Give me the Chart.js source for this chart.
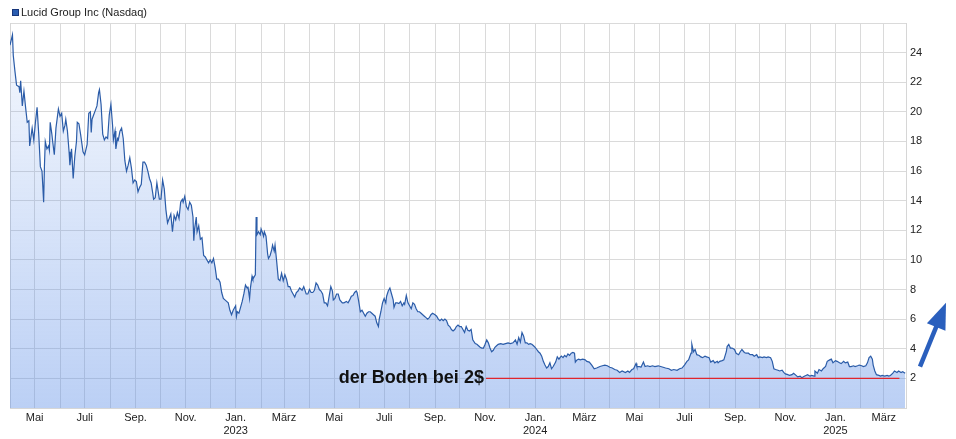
<!DOCTYPE html>
<html lang="de">
<head>
<meta charset="UTF-8">
<title>Lucid Group Inc (Nasdaq)</title>
<script src="https://cdn.jsdelivr.net/npm/chart.js"></script>
<style>
  html, body { margin: 0; padding: 0; background: #fff; }
</style>
</head>
<body>
<canvas id="chart" width="956" height="439"></canvas>
<script>
// Schlusskurse in USD, x = Tage seit dem 01.04.2022
const seriesName = 'Lucid Group Inc (Nasdaq)';
const startDate = Date.UTC(2022, 3, 1);
const lastDay = 1092;

const days = [
  0, 3, 4, 6, 8, 11, 12, 13, 15, 17,
  19, 21, 23, 24, 27, 29, 31, 33, 35, 37,
  39, 41, 42, 43, 45, 47, 48, 49, 51, 52,
  54, 56, 59, 61, 63, 65, 67, 68, 70, 72,
  73, 75, 77, 79, 81, 82, 84, 86, 89, 91,
  94, 96, 98, 99, 100, 102, 104, 106, 108, 109,
  111, 113, 115, 117, 119, 121, 123, 125, 126, 128,
  129, 131, 132, 134, 136, 138, 140, 142, 144, 146,
  148, 150, 152, 154, 156, 158, 160, 162, 164, 166,
  168, 170, 172, 174, 175, 177, 179, 182, 184, 186,
  188, 190, 192, 194, 196, 198, 200, 202, 204, 206,
  208, 210, 211, 213, 215, 217, 219, 221, 223, 224,
  225, 227, 228, 230, 232, 234, 236, 238, 240, 242,
  244, 246, 248, 250, 252, 254, 256, 258, 260, 262,
  264, 266, 268, 270, 272, 275, 276, 277, 279, 281,
  283, 285, 287, 289, 290, 292, 293, 295, 296, 298,
  299, 300, 301, 303, 305, 306, 308, 309, 310, 312,
  314, 315, 317, 319, 320, 322, 323, 325, 327, 329,
  331, 333, 335, 337, 339, 341, 343, 345, 347, 349,
  351, 353, 356, 358, 361, 363, 365, 367, 369, 371,
  373, 375, 377, 379, 381, 383, 385, 387, 389, 391,
  393, 394, 396, 398, 400, 402, 405, 407, 410, 412,
  414, 416, 418, 420, 422, 423, 425, 427, 429, 431,
  433, 435, 437, 439, 441, 443, 445, 447, 449, 450,
  452, 454, 456, 458, 459, 461, 463, 465, 467, 468,
  470, 472, 474, 476, 478, 480, 481, 483, 485, 487,
  489, 491, 493, 495, 497, 499, 501, 503, 505, 507,
  509, 511, 513, 515, 518, 520, 522, 524, 526, 528,
  530, 532, 534, 536, 538, 540, 542, 544, 546, 548,
  550, 552, 554, 556, 558, 560, 562, 564, 567, 569,
  571, 573, 575, 577, 579, 581, 583, 585, 587, 589,
  591, 593, 595, 598, 601, 604, 607, 610, 613, 616,
  618, 620, 622, 624, 626, 628, 630, 632, 634, 636,
  638, 640, 642, 644, 646, 648, 650, 652, 654, 656,
  658, 660, 662, 665, 667, 669, 671, 672, 674, 676,
  678, 680, 682, 684, 686, 688, 689, 691, 693, 695,
  698, 701, 703, 706, 709, 712, 715, 719, 722, 725,
  728, 731, 734, 737, 740, 743, 746, 750, 753, 755,
  758, 760, 763, 764, 767, 769, 772, 774, 777, 780,
  783, 786, 790, 793, 796, 799, 803, 806, 809, 813,
  816, 819, 822, 825, 827, 830, 831, 833, 835, 837,
  840, 842, 844, 847, 849, 852, 854, 857, 859, 862,
  863, 865, 868, 870, 873, 874, 876, 878, 880, 883,
  885, 888, 890, 892, 895, 897, 900, 902, 905, 907,
  910, 912, 914, 917, 919, 922, 924, 927, 929, 931,
  933, 936, 938, 941, 943, 945, 948, 950, 953, 955,
  958, 960, 963, 965, 968, 970, 972, 975, 977, 980,
  981, 984, 986, 989, 991, 994, 996, 999, 1001, 1003,
  1006, 1008, 1011, 1013, 1016, 1018, 1021, 1023, 1025, 1028,
  1030, 1033, 1035, 1038, 1040, 1043, 1045, 1047, 1049, 1051,
  1052, 1054, 1056, 1059, 1061, 1063, 1066, 1069, 1071, 1073,
  1076, 1078, 1081, 1083, 1086, 1088, 1091
];

const prices = [
  24.5, 25.2, 23.8, 22.75, 21.8, 21.7, 21.3, 22.1, 20.4, 21.4,
  20.3, 19.3, 19.4, 17.7, 18.9, 18.1, 19.3, 20.3, 18.5, 16.3,
  16.0, 13.9, 16.4, 18.0, 17.5, 17.7, 17.4, 19.3, 18.5, 18.0,
  17.1, 18.9, 20.2, 19.7, 19.9, 18.7, 19.1, 19.5, 18.7, 17.3,
  16.4, 17.5, 15.5, 17.0, 18.0, 19.3, 19.2, 18.5, 17.3, 17.1,
  17.8, 19.9, 20.0, 18.6, 19.5, 19.8, 20.1, 20.4, 21.3, 21.5,
  20.5, 18.5, 18.1, 18.3, 18.2, 19.8, 20.5, 19.1, 18.1, 18.7,
  17.5, 18.2, 18.1, 18.7, 18.9, 18.2, 16.7, 16.0, 16.4, 16.9,
  16.2, 15.2, 15.4, 15.3, 14.6, 14.9, 15.1, 16.6, 16.6, 16.4,
  16.0, 15.5, 15.2, 14.5, 14.1, 14.2, 15.2, 14.1, 14.1, 15.4,
  14.8, 13.4, 12.5, 12.8, 13.1, 11.9, 13.0, 12.7, 13.2, 12.8,
  13.9, 14.1, 13.9, 14.3, 13.6, 13.4, 13.9, 13.7, 12.9, 11.3,
  12.1, 12.9, 11.9, 12.3, 11.4, 11.5, 10.3, 10.2, 10.0, 9.8,
  10.0, 9.8, 10.1, 9.5, 8.7, 8.7, 8.5, 7.8, 7.4, 7.3,
  7.2, 7.1, 6.6, 6.3, 6.6, 6.9, 6.2, 6.5, 6.4, 6.8,
  7.2, 7.7, 8.3, 8.1, 8.2, 7.4, 8.1, 8.9, 8.7, 8.9,
  9.0, 12.9, 11.7, 11.9, 11.7, 12.1, 11.8, 11.6, 11.9, 11.6,
  10.4, 10.1, 10.3, 10.7, 11.0, 10.6, 11.0, 9.9, 8.7, 8.6,
  9.1, 8.6, 9.0, 8.7, 8.2, 8.2, 7.9, 7.7, 7.5, 7.8,
  7.9, 8.1, 7.95, 8.2, 7.7, 7.7, 8.0, 7.8, 7.8, 7.95,
  8.45, 8.3, 8.0, 7.9, 7.7, 7.1, 7.1, 6.9, 7.55, 8.2,
  7.9, 7.3, 7.4, 7.7, 7.7, 7.3, 7.1, 7.1, 7.2, 7.1,
  7.3, 7.55, 7.6, 7.8, 7.9, 7.8, 7.2, 6.5, 6.6, 6.4,
  6.2, 6.4, 6.5, 6.5, 6.4, 6.3, 6.2, 5.75, 5.5, 6.0,
  6.5, 7.1, 7.4, 7.1, 7.55, 7.9, 8.1, 7.7, 7.3, 6.8,
  7.1, 7.1, 7.05, 7.2, 6.9, 7.1, 7.0, 7.6, 7.1, 6.9,
  6.7, 7.1, 7.0, 6.7, 6.5, 6.5, 6.4, 6.3, 6.2, 6.1,
  6.0, 6.1, 6.3, 6.4, 6.3, 6.2, 6.0, 5.9, 6.0, 5.9,
  6.0, 5.9, 5.6, 5.5, 5.3, 5.2, 5.3, 5.5, 5.6, 5.5,
  5.5, 5.3, 5.1, 5.5, 5.25, 5.2, 5.3, 4.6, 4.35, 4.3,
  4.2, 4.1, 4.05, 4.05, 4.3, 4.6, 4.4, 4.05, 3.8, 3.9,
  4.1, 4.2, 4.3, 4.35, 4.3, 4.35, 4.4, 4.35, 4.4, 4.6,
  4.3, 4.75, 4.45, 5.1, 4.85, 4.4, 4.4, 4.3, 4.35, 4.3,
  4.2, 4.1, 3.95, 3.8, 3.7, 3.5, 3.15, 2.9, 2.7, 2.8,
  3.05, 2.65, 2.8, 3.1, 3.45, 3.3, 3.45, 3.5, 3.4, 3.55,
  3.45, 3.65, 3.55, 3.7, 3.75, 3.7, 3.1, 3.25, 3.3, 3.25,
  3.3, 3.25, 3.15, 3.1, 2.9, 2.65, 2.7, 2.8, 2.85, 2.9,
  2.85, 2.75, 2.7, 2.6, 2.55, 2.4, 2.5, 2.4, 2.5, 2.4,
  2.6, 2.65, 3.0, 2.8, 2.8, 2.75, 3.1, 2.8, 2.85, 2.8,
  2.85, 2.8, 2.85, 2.8, 2.75, 2.7, 2.65, 2.55, 2.6, 2.55,
  2.65, 2.7, 2.9, 3.15, 3.25, 3.7, 4.3, 3.8, 3.95, 3.6,
  3.55, 3.45, 3.4, 3.5, 3.45, 3.4, 3.1, 3.2, 3.05, 3.15,
  3.05, 3.15, 3.2, 3.25, 3.8, 4.15, 4.3, 4.05, 4.05, 3.95,
  3.7, 3.6, 3.8, 3.95, 3.75, 3.7, 3.7, 3.6, 3.6, 3.5,
  3.6, 3.4, 3.45, 3.4, 3.45, 3.4, 3.45, 3.4, 3.15, 2.65,
  2.6, 2.55, 2.5, 2.55, 2.4, 2.3, 2.25, 2.2, 2.25, 2.35,
  2.2, 2.1, 2.15, 2.05, 2.15, 2.2, 2.25, 2.15, 2.2, 2.15,
  2.5, 2.35, 2.6, 2.5, 2.65, 2.8, 3.15, 3.25, 3.3, 3.05,
  3.2, 3.15, 3.05, 3.0, 3.15, 3.05, 3.1, 2.8, 2.8, 2.85,
  2.8, 2.85, 2.9, 2.85, 2.8, 2.85, 3.05, 3.4, 3.5, 3.3,
  2.9, 2.5, 2.25, 2.2, 2.15, 2.2, 2.15, 2.2, 2.15, 2.2,
  2.35, 2.5, 2.4, 2.5, 2.4, 2.45, 2.35
];

// "der Boden bei 2$"
const floorDays = [580, 1084];
const floorPrice = 2;
const floorLabel = 'der Boden bei 2$';

const monthNames = ['Jan.', 'Feb.', 'März', 'Apr.', 'Mai', 'Juni', 'Juli', 'Aug.', 'Sep.', 'Okt.', 'Nov.', 'Dez.'];
const yMax = 26;

// Monatsanfänge als Tage seit Start
const monthTicks = [];
const monthLabel = {};
for (let i = 0; i < 36; i++) {
    const y = 2022 + Math.floor((3 + i) / 12);
    const m = (3 + i) % 12;
    const d = Math.round((Date.UTC(y, m, 1) - startDate) / 86400000);
    monthTicks.push(d);
    if (m % 2 === 0) {
        monthLabel[d] = m === 0 ? [monthNames[m], String(y)] : monthNames[m];
    } else {
        monthLabel[d] = '';
    }
}

const FONT = '"Liberation Sans", Arial, sans-serif';

const fillGradient = (context) => {
    const area = context.chart.chartArea;
    if (!area) return 'rgba(90,140,230,0.3)';
    const g = context.chart.ctx.createLinearGradient(0, area.top, 0, area.bottom);
    g.addColorStop(0, 'rgba(90,140,230,0.05)');
    g.addColorStop(1, 'rgba(90,140,230,0.41)');
    return g;
};

const decorations = {
    id: 'decorations',
    beforeDatasetsDraw(chart) {
        const { ctx, chartArea } = chart;
        ctx.save();
        ctx.strokeStyle = '#d6d6d6';
        ctx.lineWidth = 1;
        ctx.beginPath();
        ctx.moveTo(chartArea.left + 0.5, chartArea.top);
        ctx.lineTo(chartArea.left + 0.5, chartArea.bottom);
        ctx.stroke();
        ctx.restore();
    },
    afterDatasetsDraw(chart) {
        const { ctx, chartArea, scales } = chart;
        const xs = scales.x, ys = scales.y;
        ctx.save();

        // Beschriftung der Bodenlinie
        const lx = xs.getPixelForValue(floorDays[0]) - 2;
        const ly = ys.getPixelForValue(floorPrice);
        ctx.font = 'bold 18px ' + FONT;
        ctx.textAlign = 'right';
        ctx.textBaseline = 'middle';
        ctx.fillStyle = '#111';
        ctx.fillText(floorLabel, lx, ly);

        // Pfeil nach oben rechts
        const x0 = chartArea.right + 14, y0 = ys.getPixelForValue(2.8);
        const x1 = chartArea.right + 40, y1 = ys.getPixelForValue(7.1);
        const ang = Math.atan2(y1 - y0, x1 - x0);
        const headLen = 26, headW = 10;
        const bx = x1 - headLen * Math.cos(ang), by = y1 - headLen * Math.sin(ang);
        ctx.strokeStyle = '#2a5fbd';
        ctx.fillStyle = '#2a5fbd';
        ctx.lineWidth = 4.5;
        ctx.beginPath();
        ctx.moveTo(x0, y0);
        ctx.lineTo(bx + 3 * Math.cos(ang), by + 3 * Math.sin(ang));
        ctx.stroke();
        ctx.beginPath();
        ctx.moveTo(x1, y1);
        ctx.lineTo(bx + headW * Math.sin(ang), by - headW * Math.cos(ang));
        ctx.lineTo(bx - headW * Math.sin(ang), by + headW * Math.cos(ang));
        ctx.closePath();
        ctx.fill();
        ctx.restore();
    },
    afterDraw(chart) {
        const ctx = chart.ctx;
        ctx.save();
        ctx.fillStyle = '#2a5db0';
        ctx.fillRect(12, 9, 7, 7);
        ctx.strokeStyle = '#17367a';
        ctx.lineWidth = 1;
        ctx.strokeRect(12.5, 9.5, 6, 6);
        ctx.font = '11px ' + FONT;
        ctx.fillStyle = '#222';
        ctx.textAlign = 'left';
        ctx.textBaseline = 'middle';
        ctx.fillText(seriesName, 21, 13);
        ctx.restore();
    }
};

new Chart(document.getElementById('chart'), {
    type: 'line',
    data: {
        datasets: [
            {
                label: floorLabel,
                data: floorDays.map(d => ({ x: d, y: floorPrice })),
                borderColor: '#e0262e',
                borderWidth: 1.3,
                pointRadius: 0,
                fill: false
            },
            {
                label: seriesName,
                data: days.map((d, i) => ({ x: d, y: prices[i] })),
                borderColor: '#2b5ca8',
                borderWidth: 1.2,
                pointRadius: 0,
                tension: 0,
                fill: 'origin',
                backgroundColor: fillGradient
            }
        ]
    },
    options: {
        responsive: false,
        animation: false,
        devicePixelRatio: 1,
        layout: { padding: { left: 10, top: 23, right: 0, bottom: 0 } },
        plugins: {
            legend: { display: false },
            tooltip: { enabled: false }
        },
        scales: {
            x: {
                type: 'linear',
                min: 0,
                max: lastDay,
                afterBuildTicks: (scale) => { scale.ticks = monthTicks.map(v => ({ value: v })); },
                afterFit: (scale) => { scale.height = 31; },
                grid: { color: '#dadada', drawTicks: false },
                border: { color: '#d6d6d6' },
                ticks: {
                    autoSkip: false,
                    maxRotation: 0,
                    padding: 3,
                    color: '#222',
                    font: { family: FONT, size: 11 },
                    callback: (v) => monthLabel[v] ?? ''
                }
            },
            y: {
                position: 'right',
                min: 0,
                max: yMax,
                afterFit: (scale) => { scale.width = 50; },
                grid: { color: '#dadada', drawTicks: false },
                border: { color: '#d6d6d6' },
                ticks: {
                    stepSize: 2,
                    padding: 4,
                    color: '#222',
                    font: { family: FONT, size: 11 },
                    callback: (v) => (v === 0 || v === yMax) ? '' : v
                }
            }
        }
    },
    plugins: [decorations]
});
</script>
</body>
</html>
